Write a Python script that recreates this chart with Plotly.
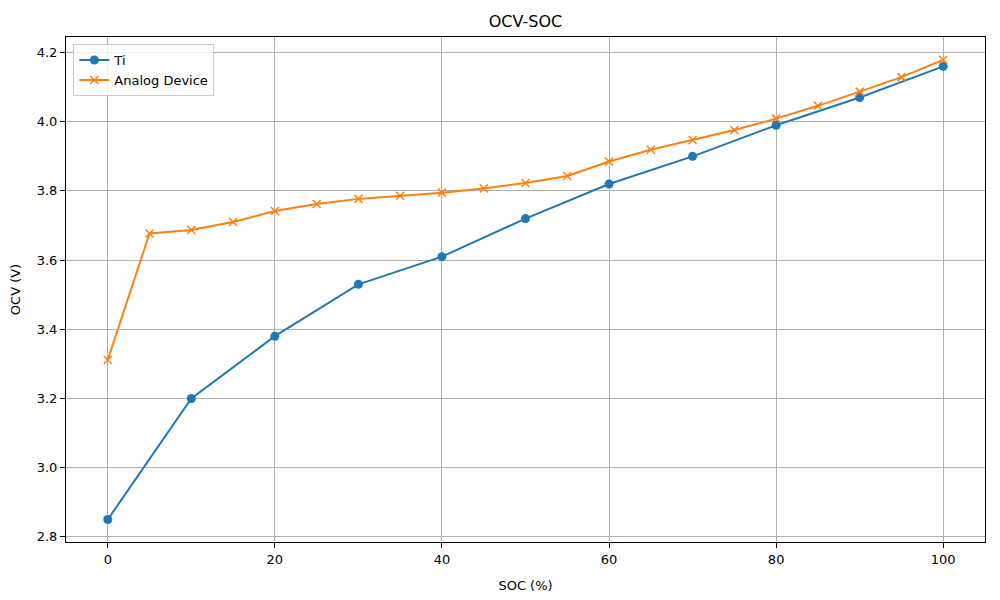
import plotly.graph_objects as go

soc_ti = [0, 10, 20, 30, 40, 50, 60, 70, 80, 90, 100]
ocv_ti = [2.85, 3.20, 3.38, 3.53, 3.61, 3.72, 3.82, 3.90, 3.99, 4.07, 4.16]

soc_ad = [0, 5, 10, 15, 20, 25, 30, 35, 40, 45, 50,
          55, 60, 65, 70, 75, 80, 85, 90, 95, 100]
ocv_ad = [3.311, 3.677, 3.687, 3.710, 3.742, 3.762, 3.777, 3.786, 3.795, 3.807, 3.823,
          3.843, 3.885, 3.919, 3.947, 3.976, 4.009, 4.046, 4.087, 4.129, 4.179]

font = "DejaVu Sans, Liberation Sans, sans-serif"

fig = go.Figure()
fig.add_trace(go.Scatter(
    x=soc_ti, y=ocv_ti, name="Ti", mode="lines+markers",
    line=dict(color="#1f77b4", width=2),
    marker=dict(symbol="circle", size=9, color="#1f77b4"),
))
fig.add_trace(go.Scatter(
    x=soc_ad, y=ocv_ad, name="Analog Device", mode="lines+markers",
    line=dict(color="#ff7f0e", width=2),
    marker=dict(symbol="x-thin", size=8, color="#ff7f0e",
                line=dict(color="#ff7f0e", width=1.5)),
))

axis_common = dict(
    showgrid=True, gridcolor="#b0b0b0", gridwidth=1,
    showline=True, linecolor="black", linewidth=1, mirror=True,
    ticks="outside", ticklen=5, tickcolor="black",
    zeroline=False, tickfont=dict(size=13, color="black"),
    automargin=False,
)

# page body adds ~8px offset, margins are set to compensate
fig.update_layout(
    width=1000, height=600,
    paper_bgcolor="white", plot_bgcolor="white",
    font=dict(family=font, size=13, color="black"),
    margin=dict(l=58, r=23, t=29, b=66),
    title=dict(text="OCV-SOC", xref="paper", x=0.5, xanchor="center",
               y=0.977, yanchor="middle", font=dict(size=16)),
    xaxis=dict(range=[-5, 105], tickvals=[0, 20, 40, 60, 80, 100],
               title=dict(text="SOC (%)", font=dict(size=13)), **axis_common),
    yaxis=dict(range=[2.785, 4.245], tickvals=[2.8, 3.0, 3.2, 3.4, 3.6, 3.8, 4.0, 4.2],
               tickformat=".1f", title=dict(text="OCV (V)", font=dict(size=13)),
               **axis_common),
    legend=dict(x=0.008, y=0.986, xanchor="left", yanchor="top",
                bgcolor="rgba(255,255,255,0.8)", bordercolor="#cccccc", borderwidth=1,
                font=dict(size=13), tracegroupgap=4),
)

fig.write_html("out.html")
